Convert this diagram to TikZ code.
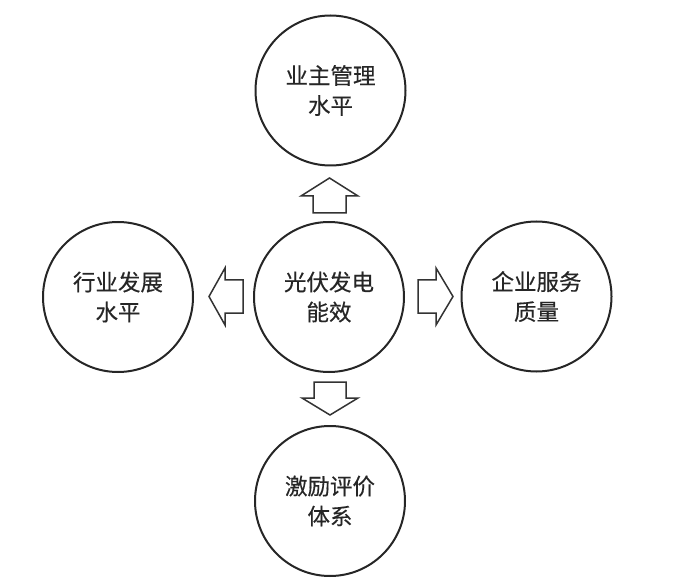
\documentclass[tikz,border=0pt]{standalone}
\usepackage{fontspec}
\newfontfamily\cjk[UprightFeatures={FakeBold=0.4}]{Noto Sans CJK SC}
\begin{document}
\begin{tikzpicture}[x=1pt,y=-1pt,
  circ/.style={circle,draw=black!85,line width=2pt,minimum size=150pt,inner sep=0pt,
    align=center,font=\cjk\fontsize{22.5}{30}\selectfont,text=black!85},
  blockarrow/.style={draw=black!80,line width=1.5pt,fill=white,line join=miter}]
\useasboundingbox (0,0) rectangle (677,585);
\node[circ] (top) at (330.5,90.5) {业主管理\\水平};
\node[circ] (mid) at (329,297) {光伏发电\\能效};
\node[circ] (left) at (118,297) {行业发展\\水平};
\node[circ] (right) at (536.5,296.5) {企业服务\\质量};
\node[circ] (bot) at (330,501) {激励评价\\体系};
% block arrows
\draw[blockarrow] (313,213)--(313,196)--(301,196)--(329.5,178)--(358,196)--(346,196)--(346,213)--cycle;
\draw[blockarrow] (243,280)--(225,280)--(225,268)--(209,296.5)--(225,325)--(225,313)--(243,313)--cycle;
\draw[blockarrow] (418,280)--(436,280)--(436,268)--(453,296.5)--(436,325)--(436,313)--(418,313)--cycle;
\draw[blockarrow] (314,382)--(314,398)--(302,398)--(330,415)--(358,398)--(346,398)--(346,382)--cycle;
\end{tikzpicture}
\end{document}
